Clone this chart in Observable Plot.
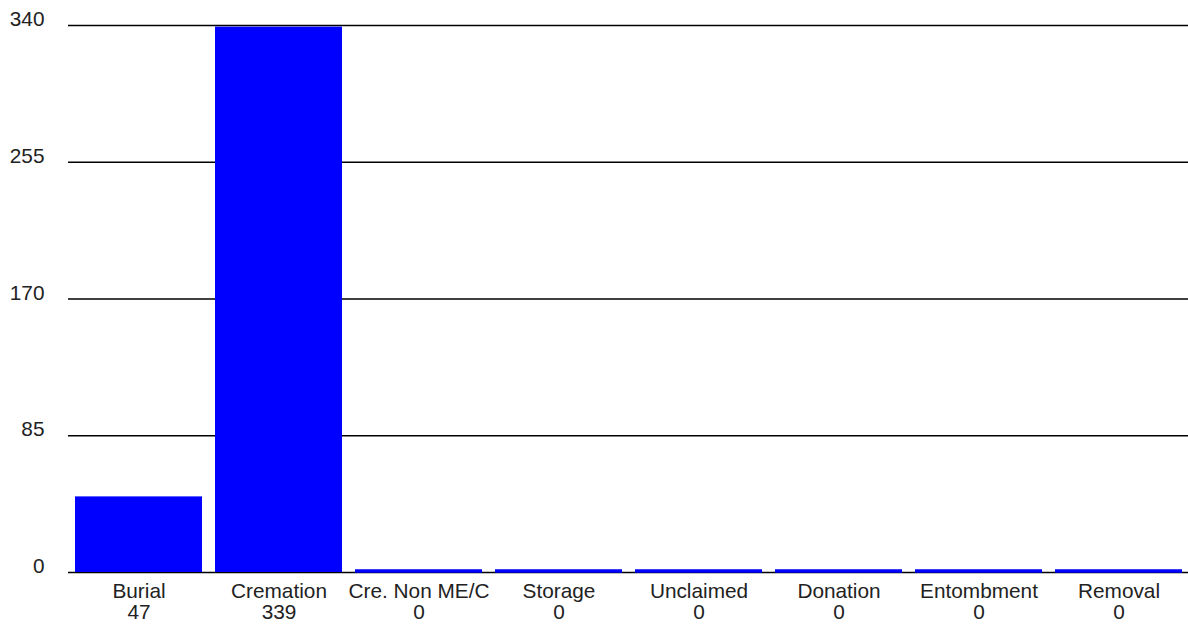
<!DOCTYPE html>
<html>
<head>
<meta charset="utf-8">
<script src="https://cdn.jsdelivr.net/npm/d3@7"></script>
<script src="https://cdn.jsdelivr.net/npm/@observablehq/plot@0.6"></script>
<style>
  html, body { margin: 0; padding: 0; background: #fff; }
  #chart svg { display: block; }
</style>
</head>
<body>
<div id="chart"></div>
<script>
const categories = ["Burial", "Cremation", "Cre. Non ME/C", "Storage", "Unclaimed", "Donation", "Entombment", "Removal"];
const values = [47, 339, 0, 0, 0, 0, 0, 0];
const yTicks = [0, 85, 170, 255, 340];

const data = categories.map((c, i) => ({category: c, value: values[i]}));
const valueOf = new Map(data.map(d => [d.category, d.value]));

const chart = Plot.plot({
  width: 1188,
  height: 626,
  marginLeft: 68,
  marginRight: 0,
  marginTop: 25,
  marginBottom: 54,
  style: {fontFamily: "'Liberation Sans', Arial, sans-serif", background: "#fff", color: "#222"},
  x: {domain: categories, paddingInner: 0.093, paddingOuter: 0.0465},
  y: {domain: [0, 340]},
  marks: [
    Plot.gridY(yTicks, {stroke: "#000", strokeOpacity: 1, strokeWidth: 1.3}),
    Plot.barY(data.filter(d => d.value > 0), {x: "category", y: "value", fill: "#0000ff"}),
    Plot.tickY(data.filter(d => d.value === 0), {x: "category", y: "value", stroke: "#0000ff", strokeWidth: 3.5, dy: -1.5}),
    Plot.axisY(yTicks, {tickSize: 0, tickPadding: 24, dy: -6, fontSize: 20.8, fill: "#222", label: null}),
    Plot.axisX({tickSize: 0, tickPadding: 10, fontSize: 20.8, fill: "#222", label: null, lineHeight: 1.03,
      tickFormat: d => d + "\n" + valueOf.get(d)})
  ]
});
document.getElementById("chart").appendChild(chart);
</script>
</body>
</html>
